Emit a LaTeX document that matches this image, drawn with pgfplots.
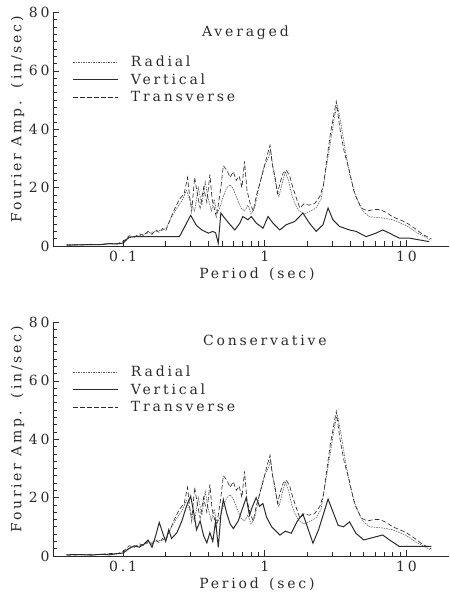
\documentclass[border=0pt]{standalone}
\usepackage{fontspec}
\setmainfont{DejaVu Serif}[LetterSpace=20]
\usepackage{pgfplots}
\usepackage{pgfplotstable}
\pgfplotsset{compat=1.18}

\definecolor{ink}{gray}{0.17}
\newcommand\pf{\fontsize{14}{16}\selectfont}

% Fourier amplitude spectra: period (sec) vs amplitude (in/sec)
\pgfplotstableread{
T A
0.040 0.5
0.060 0.4
0.080 0.7
0.100 1.0
0.110 2.8
0.130 3.5
0.150 4.5
0.170 5.0
0.190 5.5
0.200 6.0
0.220 10.0
0.240 13.0
0.260 15.5
0.280 19.0
0.300 15.0
0.320 12.0
0.340 20.0
0.360 14.0
0.380 22.0
0.400 16.0
0.420 12.0
0.440 16.0
0.460 11.0
0.480 13.0
0.510 17.0
0.540 20.0
0.570 21.0
0.600 19.5
0.640 16.0
0.680 13.0
0.720 12.0
0.760 14.0
0.800 11.0
0.850 13.0
0.900 19.0
0.950 24.0
1.000 28.0
1.060 30.0
1.100 33.0
1.150 26.0
1.200 21.0
1.260 17.0
1.320 21.0
1.400 25.5
1.480 22.0
1.560 17.0
1.650 14.0
1.750 12.0
1.900 11.0
2.100 12.0
2.300 13.0
2.500 16.0
2.700 26.0
2.900 35.0
3.100 44.0
3.250 48.5
3.450 42.0
3.700 33.0
4.000 24.0
4.400 17.0
4.900 12.0
5.500 10.0
6.200 9.8
7.000 9.5
8.000 9.0
9.000 8.0
10.00 7.0
11.50 5.0
13.00 3.5
15.00 2.0
}\tabradial

\pgfplotstableread{
T A
0.040 0.3
0.050 0.4
0.060 0.6
0.070 0.5
0.080 0.9
0.090 0.7
0.100 1.5
0.105 2.5
0.110 3.5
0.120 3.0
0.130 4.2
0.140 3.6
0.150 5.0
0.160 4.0
0.170 5.5
0.180 4.6
0.190 6.0
0.200 5.2
0.215 9.0
0.230 12.5
0.250 16.0
0.270 18.0
0.285 23.5
0.295 17.0
0.305 12.0
0.320 23.5
0.335 17.5
0.350 13.0
0.370 20.0
0.390 15.0
0.410 24.5
0.425 16.0
0.440 13.0
0.455 10.0
0.470 14.0
0.490 20.0
0.510 27.5
0.540 26.0
0.570 23.5
0.600 25.5
0.630 22.5
0.660 24.0
0.690 20.0
0.720 29.0
0.750 19.0
0.790 14.5
0.830 12.0
0.870 17.0
0.930 22.0
0.980 26.0
1.040 31.0
1.090 34.5
1.130 28.0
1.180 24.0
1.230 18.0
1.290 22.0
1.350 25.0
1.420 26.0
1.500 24.0
1.580 20.0
1.670 16.5
1.770 13.0
1.900 14.5
2.050 14.0
2.250 14.5
2.450 17.0
2.600 21.0
2.750 30.0
2.900 38.0
3.050 44.0
3.200 49.5
3.400 40.0
3.650 32.0
3.950 26.0
4.300 18.0
4.800 13.0
5.300 12.0
5.900 12.5
6.500 12.5
7.200 11.5
8.000 10.0
9.000 9.0
10.00 8.0
11.50 6.0
13.00 4.0
15.00 2.5
}\tabtrans

\pgfplotstableread{
T A
0.040 0.3
0.050 0.4
0.060 0.5
0.070 0.5
0.080 0.8
0.090 0.7
0.100 1.0
0.110 3.0
0.120 3.2
0.210 3.2
0.250 3.2
0.300 10.5
0.330 7.0
0.360 5.5
0.400 4.4
0.430 5.0
0.450 4.5
0.470 1.0
0.490 11.3
0.520 9.6
0.570 7.3
0.615 5.5
0.667 7.8
0.700 10.1
0.760 9.0
0.805 10.1
0.873 7.8
0.973 6.1
1.055 10.1
1.145 7.8
1.276 5.5
1.420 7.3
1.630 8.4
1.860 11.3
2.070 7.8
2.310 5.0
2.580 7.3
2.800 13.0
3.030 9.0
3.370 6.7
3.970 5.5
4.420 5.0
5.200 3.2
6.100 4.4
6.800 5.5
7.600 4.4
8.900 2.7
10.50 2.7
12.30 2.1
14.50 1.5
}\tabvertavg

\pgfplotstableread{
T A
0.040 0.4
0.050 0.5
0.060 0.3
0.070 0.6
0.080 0.4
0.090 0.8
0.100 1.0
0.110 2.5
0.120 3.5
0.130 3.0
0.140 4.0
0.150 5.5
0.160 3.0
0.170 7.0
0.180 11.5
0.190 8.0
0.200 5.0
0.210 9.0
0.220 6.0
0.240 8.0
0.260 12.0
0.280 17.0
0.300 20.5
0.315 15.0
0.330 9.0
0.350 12.0
0.370 7.0
0.390 4.5
0.410 8.0
0.430 5.0
0.450 12.0
0.470 3.0
0.490 14.0
0.510 19.4
0.540 14.5
0.570 11.0
0.600 9.4
0.650 12.0
0.700 16.6
0.740 20.0
0.780 14.0
0.820 17.0
0.870 20.0
0.920 17.0
0.970 18.0
1.030 13.3
1.120 10.0
1.280 7.2
1.400 8.5
1.540 7.8
1.700 12.0
1.860 14.4
2.000 10.0
2.190 4.4
2.400 9.0
2.800 19.5
3.300 10.5
3.600 10.0
3.970 11.7
4.400 7.8
5.000 5.5
6.000 6.5
6.800 7.2
7.600 5.5
8.900 3.3
10.50 3.3
15.00 3.3
}\tabvertcons

\tikzset{
  lnradial/.style={black!65, line width=0.6pt, dash pattern=on 1.5pt off 1pt},
  lnvert/.style={ink, line width=1pt},
  lntrans/.style={ink, line width=0.65pt, dash pattern=on 4.5pt off 2.5pt},
}

% shared look of both spectra panels
\pgfplotsset{
  every axis/.append style={
    scale only axis, width=396pt, height=233.5pt,
    xmin=0.032, xmax=20, ymin=0, ymax=80,
    axis x line=bottom, axis y line=left,
    axis line style={-, ink, line width=0.8pt},
    xtick={0.1,1,10}, xticklabels={0.1,1,10},
    ytick={0,20,40,60,80}, minor y tick num=7,
    tick align=inside, major tick length=6pt, minor tick length=4.5pt,
    tick style={ink, line width=0.65pt},
    tick label style={font=\pf, text=ink},
    xticklabel style={yshift=-2pt},
    xlabel={Period\hspace{3pt} (sec)},
    ylabel={Fourier Amp.\hspace{3pt} (in/sec)},
    xlabel style={font=\pf, text=ink, at={(axis description cs:0.515,-0.12)}, anchor=center},
    ylabel style={font=\pf, text=ink, at={(axis description cs:-0.0896,0.542)}, anchor=center},
    legend cell align=left,
    legend style={draw=none, fill=none, font=\pf, text=ink,
      at={(axis description cs:0.05,0.822)}, anchor=north west,
      row sep=1.5pt, inner sep=0pt},
  },
}

\begin{document}
\begin{tikzpicture}
\useasboundingbox (0,0) rectangle (450pt,598pt);

% upper panel
\begin{semilogxaxis}[at={(53pt,352pt)}, anchor=south west,
    /pgf/number format/assume math mode=true,
    legend image code/.code={\draw[#1] (0pt,0pt) -- (45pt,0pt); \path (55pt,0pt);}]
  \addplot[lnradial, mark=none] table[x=T, y=A] {\tabradial};
  \addplot[lnvert, mark=none] table[x=T, y=A] {\tabvertavg};
  \addplot[lntrans, mark=none] table[x=T, y=A] {\tabtrans};
  \legend{Radial, Vertical, Transverse}
  \node[font=\pf, text=ink] at (rel axis cs:0.486,0.912) {Averaged};
\end{semilogxaxis}

% lower panel
\begin{semilogxaxis}[at={(53pt,42pt)}, anchor=south west,
    /pgf/number format/assume math mode=true,
    legend image code/.code={\draw[#1] (0pt,0pt) -- (45pt,0pt); \path (55pt,0pt);}]
  \addplot[lnradial, mark=none] table[x=T, y=A] {\tabradial};
  \addplot[lnvert, mark=none] table[x=T, y=A] {\tabvertcons};
  \addplot[lntrans, mark=none] table[x=T, y=A] {\tabtrans};
  \legend{Radial, Vertical, Transverse}
  \node[font=\pf, text=ink] at (rel axis cs:0.535,0.925) {Conservative};
\end{semilogxaxis}
\end{tikzpicture}
\end{document}
